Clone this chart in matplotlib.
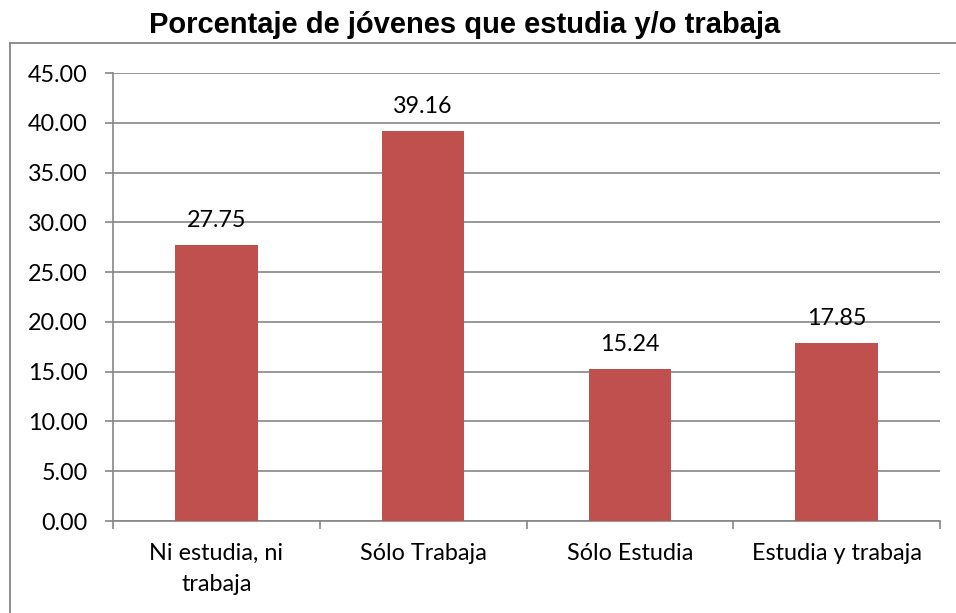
import matplotlib
matplotlib.use("Agg")
import matplotlib.pyplot as plt
from matplotlib.lines import Line2D
from matplotlib.ticker import FixedLocator

categories = ["Ni estudia, ni\ntrabaja", "Sólo Trabaja", "Sólo Estudia", "Estudia y trabaja"]
values = [27.75, 39.16, 15.24, 17.85]
yticks = [0, 5, 10, 15, 20, 25, 30, 35, 40, 45]
title = "Porcentaje de jóvenes que estudia y/o trabaja"

W, H = 956, 613
fig = plt.figure(figsize=(W / 100, H / 100), dpi=100)
ax = fig.add_axes([113 / W, 1 - 521 / H, (940 - 113) / W, (521 - 73) / H])

grid_c = "#868686"
bar_c = "#C0504D"
font = "Lato"
fs = 16.8

x = list(range(len(categories)))
ax.bar(x, values, width=0.4, color=bar_c, zorder=3)
for xi, v in zip(x, values):
    ax.annotate(f"{v:.2f}", (xi, v), xytext=(0, 10), textcoords="offset points",
                ha="center", va="bottom", fontsize=fs, family=font, color="#000000")

ax.set_xlim(-0.5, len(categories) - 0.5)
ax.set_ylim(0, 45)
ax.set_yticks(yticks)
ax.set_yticklabels([f"{t:.2f}" for t in yticks], family=font, fontsize=fs)
ax.set_xticks(x)
ax.set_xticklabels(categories, family=font, fontsize=fs, linespacing=1.55,
                   multialignment="center")
ax.xaxis.set_minor_locator(FixedLocator([i - 0.5 for i in range(len(categories) + 1)]))

ax.tick_params(axis="x", which="major", length=0, pad=16)
ax.tick_params(axis="x", which="minor", length=6, width=1.2, color=grid_c, direction="out")
ax.tick_params(axis="y", length=6, width=1.2, color=grid_c, pad=12, direction="out")

ax.grid(axis="y", color=grid_c, linewidth=1.2, zorder=0)
ax.set_axisbelow(True)
for s in ["top", "right"]:
    ax.spines[s].set_visible(False)
for s in ["left", "bottom"]:
    ax.spines[s].set_color(grid_c)
    ax.spines[s].set_linewidth(1.2)

# chart border (cropped)
fig.add_artist(Line2D([10 / W, 10 / W], [-0.05, 1 - 43 / H], transform=fig.transFigure,
                      color=grid_c, linewidth=1.3))
fig.add_artist(Line2D([10 / W, 1.05], [1 - 43 / H, 1 - 43 / H], transform=fig.transFigure,
                      color=grid_c, linewidth=1.3))

fig.text(465 / W, 1 - 25 / H, title, ha="center", va="center", fontsize=21,
         fontweight="bold", family="Liberation Sans")

fig.savefig("out.png", dpi=100)
